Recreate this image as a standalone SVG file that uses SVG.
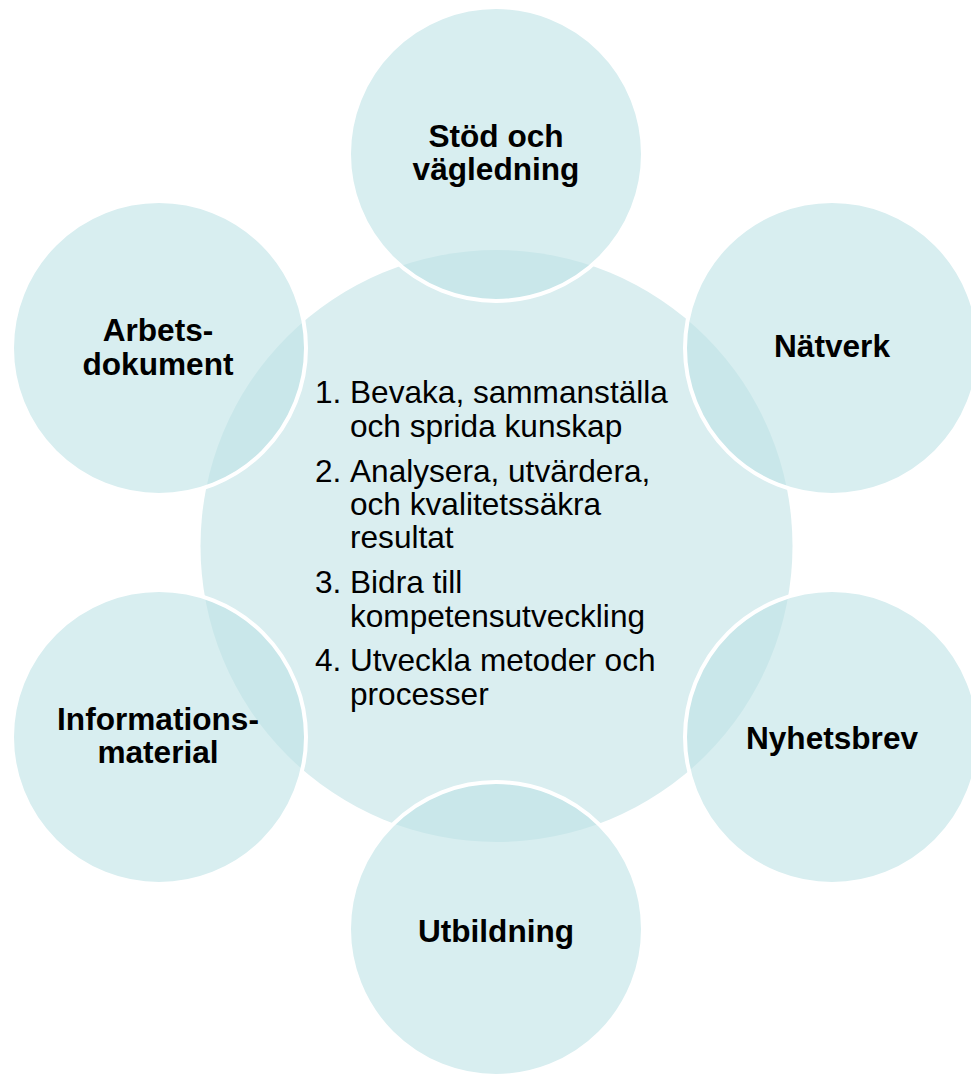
<svg xmlns="http://www.w3.org/2000/svg" width="971" height="1077" viewBox="0 0 971 1077">
<style>
.center{fill:#DAEEF0;}
.outer{fill:rgb(190,226,230);fill-opacity:0.6;stroke:#FFFFFF;stroke-width:4;}
.lbl{font-family:"Liberation Sans",Arial,sans-serif;font-weight:bold;font-size:31.6px;fill:#000;text-anchor:middle;}
.lst{font-family:"Liberation Sans",Arial,sans-serif;font-size:31.6px;fill:#000;}
</style>
<rect width="971" height="1077" fill="#FFFFFF"/>
<g id="center">
<circle class="center" cx="496.5" cy="546" r="296"/>
<text class="lst">
<tspan x="315" y="403">1.</tspan><tspan x="350" y="403">Bevaka, sammanställa</tspan>
<tspan x="350" y="437">och sprida kunskap</tspan>
<tspan x="315" y="482">2.</tspan><tspan x="350" y="482">Analysera, utvärdera,</tspan>
<tspan x="350" y="515">och kvalitetssäkra</tspan>
<tspan x="350" y="548">resultat</tspan>
<tspan x="315" y="593">3.</tspan><tspan x="350" y="593">Bidra till</tspan>
<tspan x="350" y="627">kompetensutveckling</tspan>
<tspan x="315" y="671">4.</tspan><tspan x="350" y="671">Utveckla metoder och</tspan>
<tspan x="350" y="705">processer</tspan>
</text>
</g>
<g id="stod">
<circle class="outer" cx="496" cy="154" r="147"/>
<text class="lbl"><tspan x="496" y="147">Stöd och</tspan><tspan x="496" y="180">vägledning</tspan></text>
</g>
<g id="natverk">
<circle class="outer" cx="832" cy="348" r="147"/>
<text class="lbl" x="832" y="357">Nätverk</text>
</g>
<g id="nyhetsbrev">
<circle class="outer" cx="832" cy="737" r="147"/>
<text class="lbl" x="832" y="749">Nyhetsbrev</text>
</g>
<g id="utbildning">
<circle class="outer" cx="496" cy="929" r="147"/>
<text class="lbl" x="496" y="942">Utbildning</text>
</g>
<g id="informationsmaterial">
<circle class="outer" cx="159" cy="737" r="147"/>
<text class="lbl"><tspan x="158" y="730">Informations-</tspan><tspan x="158" y="763">material</tspan></text>
</g>
<g id="arbetsdokument">
<circle class="outer" cx="159" cy="348" r="147"/>
<text class="lbl"><tspan x="158" y="341">Arbets-</tspan><tspan x="158" y="375">dokument</tspan></text>
</g>
<g id="connectors"></g>
</svg>
